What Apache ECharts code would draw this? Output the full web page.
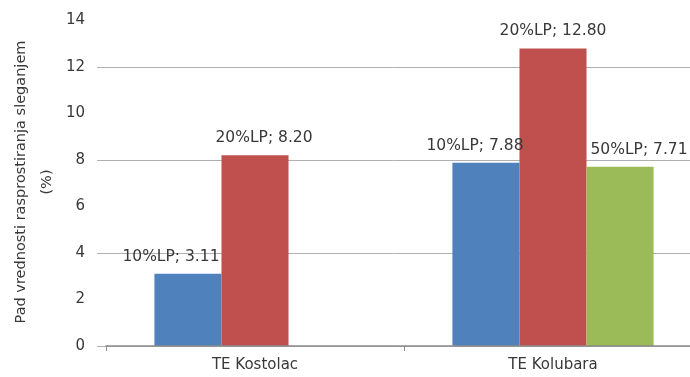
<!DOCTYPE html>
<html><head><meta charset="utf-8">
<script src="https://cdn.jsdelivr.net/npm/echarts@6/dist/echarts.min.js"></script>
<style>html,body{margin:0;padding:0;background:#fff}#c{width:690px;height:377px}</style>
</head><body><div id="c"></div>
<script>
var categories = ['TE Kostolac', 'TE Kolubara'];
var seriesNames = ['10%LP', '20%LP', '50%LP'];
var lp10 = [3.11, 7.88];
var lp20 = [8.20, 12.80];
var lp50 = [null, 7.71];
var yTicks = [0, 2, 4, 6, 8, 10, 12, 14];
var yTitle = 'Pad vrednosti rasprostiranja sleganjem\n(%)';

var colors = ['#4F81BD', '#C0504D', '#9BBB59'];
// horizontal nudges of the value labels (per series, per category), px
var labelDx = [[-17, -11], [9, 0], [0, 19]];
var font = '"DejaVu Sans", Verdana, sans-serif';
var gridColor = '#b0b0b0';

function mk(i, data) {
  return {
    name: seriesNames[i], type: 'bar', xAxisIndex: 0, yAxisIndex: 0,
    barGap: '0%', barCategoryGap: '32.5%', z: 3,
    itemStyle: { color: colors[i] },
    data: data.map(function (v, j) {
      return { value: v, label: { offset: [labelDx[i][j], 0] } };
    }),
    label: {
      show: true, position: 'top', distance: 9,
      fontFamily: font, fontSize: 15.5, color: '#383838',
      formatter: function (p) { return p.seriesName + '; ' + Number(p.value).toFixed(2); }
    }
  };
}

var chart = echarts.init(document.getElementById('c'), null, { renderer: 'canvas' });
chart.setOption({
  animation: false,
  grid: [
    { left: 106, right: -12, top: 20.5, bottom: 31, containLabel: false, outerBoundsMode: 'none' },
    { left: 97, right: 0, top: 20.5, bottom: 31, containLabel: false, outerBoundsMode: 'none' }
  ],
  graphic: [{
    type: 'text', x: 34, y: 182, rotation: Math.PI / 2,
    style: {
      text: yTitle, fontFamily: font, fontSize: 14.5, fill: '#383838',
      lineHeight: 26, align: 'center', verticalAlign: 'middle'
    }
  }],
  xAxis: [{
    type: 'category', data: categories, gridIndex: 0, z: 4,
    axisLine: { lineStyle: { color: '#8c8c8c', width: 1.5 } },
    axisTick: { show: true, alignWithLabel: false, length: 5, lineStyle: { color: '#8c8c8c' } },
    axisLabel: { fontFamily: font, fontSize: 15, color: '#383838', margin: 12 }
  }, {
    type: 'value', gridIndex: 1, show: false
  }],
  yAxis: [{
    type: 'value', gridIndex: 0, min: yTicks[0], max: yTicks[yTicks.length - 1], interval: 2,
    axisLine: { show: false }, axisTick: { show: false }, splitLine: { show: false },
    axisLabel: { fontFamily: font, fontSize: 15, color: '#383838', margin: 21 }
  }, {
    type: 'value', gridIndex: 1, min: 0, max: 14, interval: 4,
    axisLine: { show: false }, axisLabel: { show: false }, axisTick: { show: false },
    splitLine: { show: true, lineStyle: { color: [gridColor, gridColor, gridColor, gridColor, 'rgba(0,0,0,0)'], width: 1 } }
  }],
  series: [mk(0, lp10), mk(1, lp20), mk(2, lp50)]
});
</script></body></html>
